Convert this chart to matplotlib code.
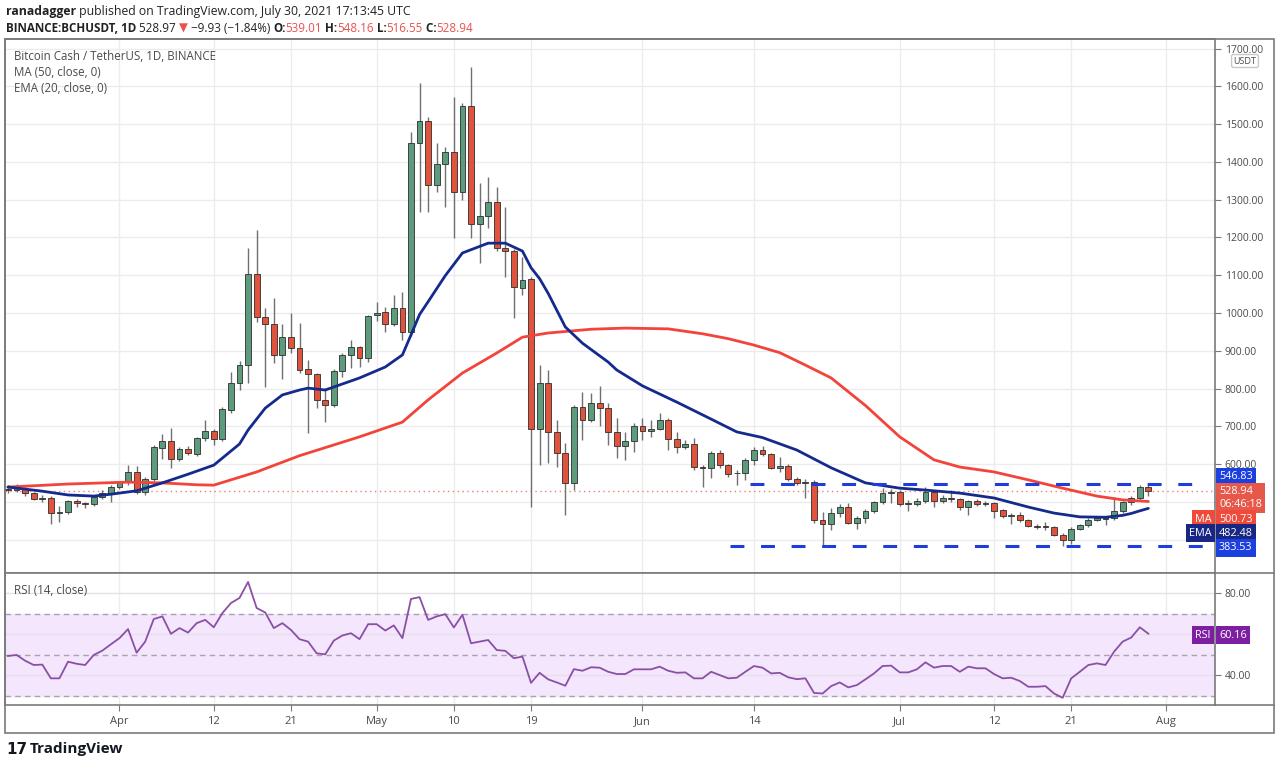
import matplotlib
matplotlib.use('Agg')
import matplotlib.pyplot as plt
import matplotlib.dates as mdates
from matplotlib.patches import Rectangle
import numpy as np
import pandas as pd

plt.rcParams['font.family'] = ['Open Sans', 'DejaVu Sans']
plt.rcParams['lines.scale_dashes'] = False

W, H = 1280, 766

# daily BCH/USDT candles, Mar 19 -> Jul 30 2021
start = '2021-03-19'
opens = [534, 532, 535, 524, 508, 509, 471, 472, 502, 497, 494, 513, 520,
         540, 553, 579, 526, 560, 643, 661, 613, 640, 627, 669, 687, 666, 743, 815, 862, 1103,
         989, 971, 889, 936, 907, 851, 838, 770, 756, 846, 889, 910, 881,
         994, 1003, 971, 1013, 950, 1450, 1509, 1339, 1395, 1427, 1320, 1548, 1236, 1257, 1294,
         1172, 1164, 1066, 1090, 693, 815, 685, 629, 550, 751, 717, 762, 748, 685, 648, 661,
         701, 688, 693, 717, 666, 645, 653, 592, 590, 629, 597, 575, 577, 611, 637, 626, 589,
         595, 560, 550, 553, 452, 441, 470, 486, 444, 457, 476, 499, 523,
         525, 494, 495, 502, 526, 502, 510, 507, 486, 502, 494, 497, 477, 462, 465, 452, 436,
         434, 433, 412, 399, 428, 438, 452, 454, 458, 476, 499, 510, 539.01]
highs = [545, 548, 540, 527, 518, 515, 490, 505, 508, 500, 518, 530, 545,
         556, 597, 595, 565, 650, 680, 696, 645, 648, 672, 717, 693, 750, 844, 873, 1172, 1220,
         1013, 1040, 971, 1000, 973, 875, 841, 801, 851, 893, 928, 912, 995,
         1029, 1015, 1048, 1056, 1479, 1609, 1520, 1450, 1440, 1572, 1555, 1652, 1344, 1360, 1334,
         1281, 1170, 1148, 1095, 862, 849, 717, 656, 755, 791, 788, 806, 762, 722, 685, 709,
         722, 717, 735, 722, 685, 664, 669, 598, 635, 637, 600, 584, 615, 645, 648, 630, 619,
         600, 565, 560, 558, 473, 483, 495, 497, 462, 480, 503, 536, 535,
         530, 505, 510, 539, 530, 518, 531, 510, 505, 508, 502, 500, 480, 470, 472, 455, 440,
         446, 437, 418, 432, 442, 456, 462, 462, 513, 503, 515, 544, 548.16]
lows = [522, 526, 515, 505, 500, 440, 446, 468, 485, 484, 490, 508, 500,
        535, 545, 520, 518, 555, 612, 590, 608, 624, 622, 662, 650, 662, 736, 796, 815, 975,
        804, 867, 825, 895, 840, 682, 748, 711, 752, 830, 854, 857, 870,
        978, 950, 965, 928, 940, 1268, 1268, 1320, 1281, 1199, 1299, 1199, 1132, 1225, 1165,
        1095, 987, 1048, 486, 597, 603, 592, 465, 531, 664, 711, 700, 650, 616, 611, 632,
        664, 672, 690, 637, 629, 640, 585, 539, 563, 590, 566, 544, 558, 597, 620, 587, 579,
        555, 545, 510, 445, 385, 425, 460, 440, 428, 444, 470, 495, 497,
        489, 475, 490, 497, 486, 497, 500, 478, 465, 488, 490, 457, 458, 440, 446, 432, 428,
        425, 408, 384, 388, 424, 432, 448, 438, 452, 470, 492, 505, 516.55]
closes = [532, 537, 524, 508, 510, 470, 473, 502, 497, 494, 513, 523, 540,
          553, 579, 526, 560, 645, 661, 613, 640, 629, 669, 687, 666, 746, 815, 862, 1103, 989,
          971, 889, 936, 907, 849, 838, 770, 756, 846, 889, 910, 881, 992,
          1000, 971, 1013, 950, 1450, 1509, 1339, 1395, 1427, 1320, 1548, 1236, 1257, 1294, 1172,
          1164, 1069, 1087, 693, 815, 685, 629, 550, 751, 717, 762, 748, 685, 648, 661, 701,
          687, 693, 717, 666, 645, 653, 592, 590, 629, 597, 574, 577, 611, 637, 626, 589, 595,
          560, 550, 553, 452, 441, 470, 486, 444, 457, 476, 499, 523, 526,
          494, 496, 502, 526, 502, 510, 507, 486, 502, 494, 497, 476, 462, 465, 452, 436, 434,
          433, 412, 399, 428, 438, 452, 457, 458, 476, 499, 510, 538.87, 528.94]

# indicator lines
ma_dates = ['03-19', '03-26', '04-02', '04-06', '04-10', '04-12', '04-14', '04-17', '04-22',
            '04-29', '05-04', '05-07', '05-11', '05-15', '05-18', '05-21', '05-26', '05-30',
            '06-04', '06-08', '06-11', '06-14', '06-17', '06-20', '06-23', '06-27', '07-01',
            '07-05', '07-08', '07-12', '07-16', '07-20', '07-24', '07-27', '07-30']
ma_vals = [539, 547, 552, 550, 545, 544, 558, 579, 622,
           672, 711, 770, 841, 894, 936, 947, 957, 960,
           958, 945, 932, 915, 895, 862, 828, 755, 672,
           611, 592, 579, 558, 536, 515, 505, 500.73]
ema_dates = ['03-19', '03-23', '03-26', '03-29', '03-31', '04-03', '04-04', '04-06', '04-09',
             '04-12', '04-15', '04-16', '04-18', '04-20', '04-22', '04-23', '04-25', '04-26',
             '04-29', '05-02', '05-04', '05-05', '05-06', '05-07', '05-09', '05-11', '05-14',
             '05-16', '05-18', '05-19', '05-20', '05-21', '05-23', '05-25', '05-28', '05-29',
             '06-01', '06-05', '06-09', '06-12', '06-15', '06-19', '06-23', '06-27', '07-01',
             '07-04', '07-08', '07-12', '07-16', '07-19', '07-22', '07-25', '07-27', '07-28',
             '07-29', '07-30']
ema_vals = [539, 528, 518, 515, 520, 529, 536, 550, 573,
            597, 653, 690, 748, 783, 796, 801, 796, 804,
            828, 857, 889, 942, 996, 1030, 1099, 1159, 1185,
            1185, 1164, 1120, 1091, 1052, 963, 920, 870, 849,
            807, 764, 719, 685, 670, 637, 590, 550, 536,
            531, 523, 510, 486, 470, 460, 459, 464, 469,
            476, 482.48]

rsi = [49.3, 49.8, 47, 44.9, 45.1, 38.4, 38.4, 46.5, 45.5, 44.9, 49.8, 51.9, 55,
       58, 62.4, 50.9, 56.3, 67.3, 68.6, 60.1, 62.9, 60.7, 65.3, 66.9, 63.3, 70.2, 75.1, 77.6,
       85.4, 72.7, 70.5, 62.9, 65.3, 62, 57.5, 56.3, 50.6, 50.1, 56.8, 59.3, 60.4, 57.5,
       64.8, 64.8, 61.7, 64.2, 58, 77.1, 78, 66.9, 68.6, 69.7, 63.2, 69.4, 55.5, 56.3, 57.1,
       52.2, 51.8, 48.2, 49, 36.2, 41.1, 37.9, 36.4, 34.8, 42.9, 42.1, 43.8, 43.6, 41.6,
       40.5, 40.5, 42.8, 42.8, 42.8, 44.1, 42.1, 41.1, 41.3, 38.4, 38.4, 41.6, 40, 38.4,
       38.7, 41.6, 44.4, 43.6, 40.8, 41.1, 38.9, 38, 38.4, 31.3, 31, 34.6, 36.4, 34, 35.1,
       37.9, 40.8, 44.4, 44.6, 41.3, 41.3, 42.8, 46.2, 43.6, 44.4, 44.4, 41.6, 44.1, 43.3,
       43.3, 40.5, 38.4, 38.7, 37.1, 34.3, 34.3, 34.6, 31, 28.9, 38.4, 41.6, 44.9, 45.7,
       44.9, 51.4, 56.3, 58.3, 63.3, 60.16]

resistance = 546.83
support = 383.53

date_ticks = ['2021-04-01', '2021-04-12', '2021-04-21', '2021-05-01', '2021-05-10', '2021-05-19',
              '2021-06-01', '2021-06-14', '2021-07-01', '2021-07-12', '2021-07-21', '2021-08-01']
date_labels = ['Apr', '12', '21', 'May', '10', '19', 'Jun', '14', 'Jul', '12', '21', 'Aug']

GREEN = '#5c9b7b'
RED = '#e0533c'
GRID = '#ececec'
FRAME = '#7a7a7a'
TXT = '#4a4a4a'


def px_box(l, t, r, b):
    return [l / W, 1 - b / H, (r - l) / W, (b - t) / H]


def to_num(md):
    return mdates.date2num(pd.to_datetime(['2021-' + d for d in md]))


dates = pd.date_range(start, periods=len(closes), freq='D')
xd = mdates.date2num(dates)
o = np.array(opens, float)
c = np.array(closes, float)
h = np.array(highs, float)
lo = np.array(lows, float)

fig = plt.figure(figsize=(W / 100, H / 100), dpi=100)
ax = fig.add_axes(px_box(5, 39, 1215, 573))
ax2 = fig.add_axes(px_box(5, 573, 1215, 705), sharex=ax)

x0 = xd[0] - 0.35
x1 = xd[0] + 140.77
ax.set_xlim(x0, x1)
ax.set_ylim(311.3, 1725.8)
ax2.set_ylim(25.4, 89.76)

tick_nums = mdates.date2num(pd.to_datetime(date_ticks))

# grids
for a in (ax, ax2):
    for t in tick_nums:
        a.axvline(t, color=GRID, lw=1, zorder=0)
    for s in a.spines.values():
        s.set_color(FRAME)
        s.set_linewidth(1.2)
for p in range(400, 1800, 100):
    ax.axhline(p, color=GRID, lw=1, zorder=0)

# candles
up = c >= o
ax.vlines(xd, lo, h, color='#707070', lw=1, zorder=2)
body = np.maximum(np.abs(c - o), 2.5)
ax.bar(xd, body, bottom=np.minimum(o, c), width=0.68,
       color=np.where(up, GREEN, RED), edgecolor='#2e2e2e', linewidth=0.6, zorder=3)

# moving averages
ax.plot(to_num(ma_dates), ma_vals, color='#f2443a', lw=2.0, zorder=4, solid_capstyle='round')
ax.plot(to_num(ema_dates), ema_vals, color='#142a8c', lw=2.0, zorder=4, solid_capstyle='round')

# horizontal levels
ax.axhline(c[-1], color='#ee7f76', lw=1, ls=(0, (1, 2.5)), zorder=1)
ax.hlines(resistance, mdates.date2num(pd.Timestamp('2021-06-13 12:00')), xd[0] + 139.6,
          color='#1f3ddc', lw=2.2, ls=(0, (10, 12)), zorder=5)
ax.hlines(support, mdates.date2num(pd.Timestamp('2021-06-11 06:00')), xd[0] + 139.6,
          color='#1f3ddc', lw=2.2, ls=(0, (10, 12)), zorder=5)

# price axis on the right
ax.yaxis.tick_right()
pt = list(range(400, 1800, 100))
ax.set_yticks(pt)
ax.set_yticklabels(['' if p < 600 else f'{p:.2f}' for p in pt])
ax.tick_params(axis='y', length=4, color=FRAME, labelsize=7.5, labelcolor=TXT, pad=3)
ax.tick_params(axis='x', length=0, labelbottom=False)

# RSI pane
ax2.axhspan(30, 70, color='#f4e6fc', zorder=0)
for lv in (80, 60, 40):
    ax2.axhline(lv, color='#e6e0ea', lw=1, zorder=0.5)
for lv in (70, 50, 30):
    ax2.axhline(lv, color='#a9a3ad', lw=1, ls=(0, (4, 3)), zorder=0.6)
ax2.plot(xd, rsi, color='#8a50a6', lw=1.3, zorder=3)
ax2.yaxis.tick_right()
ax2.set_yticks([80, 40])
ax2.set_yticklabels(['80.00', '40.00'])
ax2.tick_params(axis='y', length=4, color=FRAME, labelsize=7.5, labelcolor=TXT, pad=3)
ax2.set_xticks(tick_nums)
ax2.set_xticklabels(date_labels)
ax2.tick_params(axis='x', length=4, color=FRAME, labelsize=8, labelcolor=TXT, pad=4)

# outer frame
fig.patches.append(Rectangle((5 / W, 1 - 733 / H), 1269 / W, 694 / H, transform=fig.transFigure,
                             fill=False, ec=FRAME, lw=1.2))
fig.add_artist(plt.Line2D([1215 / W, 1274 / W], [1 - 573 / H] * 2, color=FRAME, lw=1.2))
fig.add_artist(plt.Line2D([1215 / W, 1274 / W], [1 - 705 / H] * 2, color=FRAME, lw=1.2))


def ftxt(x, y, s, **kw):
    return fig.text(x / W, 1 - y / H, s, **kw)


def tag(x, y, s, fc, size=7.8, ha='left', tc='white', pad=0.28):
    ftxt(x, y, s, fontsize=size, color=tc, ha=ha, va='center',
         bbox=dict(boxstyle=f'square,pad={pad}', fc=fc, ec='none'))


# legend texts
ftxt(14, 56, 'Bitcoin Cash / TetherUS, 1D, BINANCE', fontsize=8.3, color=TXT, va='center')
ftxt(14, 72, 'MA (50, close, 0)', fontsize=8.3, color=TXT, va='center')
ftxt(14, 88, 'EMA (20, close, 0)', fontsize=8.3, color=TXT, va='center')
ftxt(14, 590, 'RSI (14, close)', fontsize=8.3, color=TXT, va='center')

# right-side value tags
ftxt(1245, 61, 'USDT', fontsize=6.5, color=TXT, ha='center', va='center',
     bbox=dict(boxstyle='round,pad=0.22', fc='white', ec='#c8c8c8'))
tag(1219, 477, f'{resistance:.2f}', '#1c3fe0')
tag(1219, 498, f'{c[-1]:.2f}\n06:46:18', '#e6584a')
tag(1219, 519, f'{ma_vals[-1]:.2f}', '#f04a3a')
tag(1212, 519, 'MA', '#f04a3a', ha='right')
tag(1219, 533, f'{ema_vals[-1]:.2f}', '#172783')
tag(1212, 533, 'EMA', '#172783', ha='right')
tag(1219, 548, f'{support:.2f}', '#1c3fe0')
tag(1219, 635, f'{rsi[-1]:.2f}', '#7d1fa3')
tag(1211, 635, 'RSI', '#7d1fa3', ha='right')

# header lines
fig.canvas.draw()
r = fig.canvas.get_renderer()


def chain(x, y, parts, size=8.6):
    for s, col, wt in parts:
        t = ftxt(x, y, s, fontsize=size, color=col, fontweight=wt, va='center')
        x += t.get_window_extent(renderer=r).width


RC = '#e8524f'
chain(6, 11, [('ranadagger', '#222222', 'bold'),
              (' published on TradingView.com, July 30, 2021 17:13:45 UTC', '#222222', 'normal')],
      size=8.85)
chain(6, 28, [('BINANCE:BCHUSDT, 1D', '#222222', 'bold'),
              (' 528.97 ', '#222222', 'normal'), ('\u25bc', RC, 'normal'),
              (' \u22129.93 (\u22121.84%) ', '#222222', 'normal'),
              ('O:', '#222222', 'bold'), ('539.01', RC, 'normal'),
              (' H:', '#222222', 'bold'), ('548.16', RC, 'normal'),
              (' L:', '#222222', 'bold'), ('516.55', RC, 'normal'),
              (' C:', '#222222', 'bold'), ('528.94', RC, 'normal')],
      size=8.4)

# footer logo
ftxt(6, 749, '17', fontsize=11, color='#131722', fontweight='heavy', va='center', family='DejaVu Sans')
ftxt(30, 749, 'TradingView', fontsize=11, color='#131722', fontweight='bold', va='center')

fig.savefig('out.png', dpi=100)
